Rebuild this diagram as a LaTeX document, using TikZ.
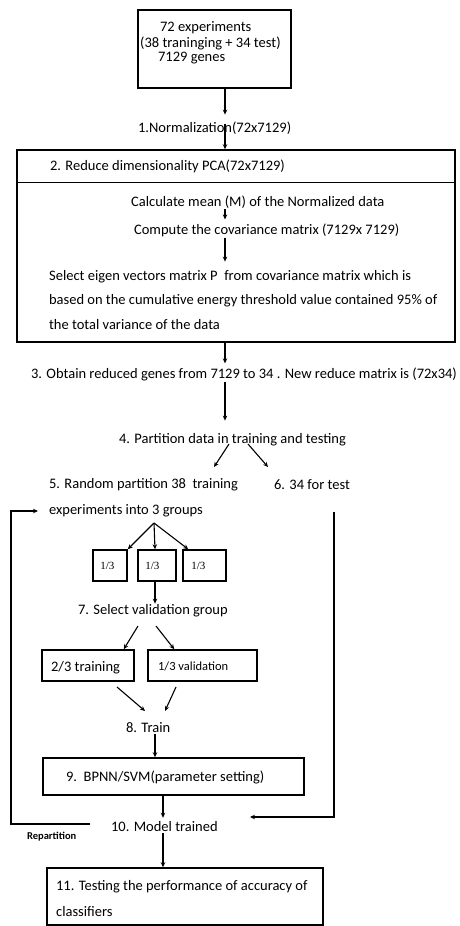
\documentclass[tikz,border=0pt]{standalone}
\usepackage{fontspec}
\setmainfont{Carlito}
\newfontfamily\smallserif{Liberation Serif}
\usetikzlibrary{arrows.meta}
\tikzset{every picture/.style={line width=0.75pt}}

\begin{document}
\begin{tikzpicture}[x=1pt,y=1pt,yscale=-1,xscale=1,
    txt/.style={anchor=west,inner sep=0.75pt,font=\fontsize{14.5}{17}\selectfont},
    box/.style={draw,line width=1.5pt,inner sep=0pt},
    arr/.style={draw,line width=1.1pt,-{Stealth[length=5pt,width=4.5pt]}}]
    \useasboundingbox (0,0) rectangle (459,926);
    \coordinate (spine) at (225,0);

    %Boxes
    \node [box,minimum width=153pt,minimum height=78pt] (exp) at (214.5,49) {};
    \node [box,minimum width=438pt,minimum height=192pt] (pca) at (236,246) {};
    \draw [line width=1.5pt] ([yshift=33pt]pca.north west) -- ([yshift=33pt]pca.north east);
    \node [box,minimum width=34pt,minimum height=31pt] (gA) at (110,565.5) {};
    \node [box,minimum width=38pt,minimum height=31pt] (gB) at (157,565.5) {};
    \node [box,minimum width=43pt,minimum height=31pt] (gC) at (204.5,565.5) {};
    \node [box,minimum width=92pt,minimum height=31pt] (trn) at (88,665.5) {};
    \node [box,minimum width=109pt,minimum height=31pt] (val) at (202.5,665.5) {};
    \node [box,minimum width=261pt,minimum height=37pt] (svm) at (173.5,776.5) {};
    \node [box,minimum width=276pt,minimum height=57pt] (acc) at (185,896.5) {};

    % Text Node
    \node [txt] (exp1) at (159,28) {72 experiments};
    \node [txt] (exp2) at (139,43) {(38 traninging + 34 test)};
    \node [txt] (exp3) at (157,58) {7129 genes};
    \node [txt] (norm) at (137,128) {1.Normalization(72x7129)};
    \node [txt] (red) at (49,166) {2. Reduce dimensionality PCA(72x7129)};
    \node [txt] (mean) at (130,202) {Calculate mean (M) of the Normalized data};
    \node [txt] (cov) at (133,230) {Compute the covariance matrix (7129x 7129)};
    \node [txt] (sel1) at (48,277) {Select eigen vectors matrix P\ \ from covariance matrix which is};
    \node [txt] (sel2) at (48,301) {based on the cumulative energy threshold value contained 95\% of};
    \node [txt] (sel3) at (48,325) {the total variance of the data};
    \node [txt] (obt) at (30,374) {3. Obtain reduced genes from 7129 to 34 . New reduce matrix is (72x34)};
    \node [txt] (part) at (118,440) {4. Partition data in training and testing};
    \node [txt] (rnd) at (48,485) {5. Random partition 38\ \ training};
    \node [txt] (test) at (273,485) {6. 34 for test};
    \node [txt] (grp) at (48,511) {experiments into 3 groups};
    \node [txt,font=\smallserif\fontsize{11}{12}\selectfont] (tA) at (gA.west) [xshift=7pt] {1/3};
    \node [txt,font=\smallserif\fontsize{11}{12}\selectfont] (tB) at (gB.west) [xshift=7pt] {1/3};
    \node [txt,font=\smallserif\fontsize{11}{12}\selectfont] (tC) at (gC.west) [xshift=8pt] {1/3};
    \node [txt] (selv) at (77,611) {7. Select validation group};
    \node [txt] (ttrn) at (50,668) {2/3 training};
    \node [txt,font=\fontsize{12.5}{14}\selectfont] (tval) at (157,666) {1/3 validation};
    \node [txt] (train) at (125,728) {8. Train};
    \node [txt] (tsvm) at (65,777) {9.\ \ BPNN/SVM(parameter setting)};
    \node [txt] (model) at (110,827) {10. Model trained};
    \node [txt,font=\bfseries\fontsize{10.5}{12}\selectfont] (rep) at (26,837) {Repartition};
    \node [txt] (acc1) at (55,887) {11. Testing the performance of accuracy of};
    \node [txt] (acc2) at (55,912) {classifiers};

    %Arrow ends
    \coordinate (n1) at (225,124);
    \coordinate (p1) at (229,444);
    \coordinate (p2) at (248,444);
    \coordinate (r1) at (214,467);
    \coordinate (r2) at (268,467);
    \coordinate (g0) at (154,523);
    \coordinate (v1) at (138,626);
    \coordinate (v2) at (156,626);
    \coordinate (w1) at (117,687);
    \coordinate (w2) at (176,687);
    \coordinate (t1) at (145,711);
    \coordinate (t2) at (165,711);
    \coordinate (lft) at (11,824);
    \coordinate (rp) at (90,824);
    \coordinate (rt) at (334,512);
    \coordinate (mt) at (250,817);

    %Straight Lines
    \draw [arr] (exp.south -| spine) -- ([yshift=-6pt]norm.north -| spine);
    \draw [arr] (n1) -- (pca.north -| spine);
    \draw [arr] (mean.south -| spine) -- ([yshift=-3pt]cov.north -| spine);
    \draw [arr] (cov.south -| spine) -- ([yshift=-8pt]sel1.north -| spine);
    \draw [arr] (pca.south -| spine) -- ([yshift=-3pt]obt.north -| spine);
    \draw [arr] (obt.south -| spine) -- ([yshift=-12pt]part.north -| spine);
    \draw [arr] (p1) -- (r1);
    \draw [arr] (p2) -- (r2);
    \draw [arr] (g0) -- (gA.north east);
    \draw [arr] (g0) -- ([xshift=-2pt]gB.north);
    \draw [arr] (g0) -- ([xshift=6pt]gC.north west);
    \draw [arr] ([xshift=-2pt]gB.south) -- ([xshift=-2pt]selv.north -| gB);
    \draw [arr] (v1) -- ([xshift=-11pt]trn.north east);
    \draw [arr] (v2) -- ([xshift=27pt]val.north west);
    \draw [arr] (w1) -- (t1);
    \draw [arr] (w2) -- (t2);
    \draw [arr] ([xshift=-2pt]train.south -| gB) -- ([xshift=-2pt]svm.north -| gB);
    \draw [arr] ([xshift=-10.5pt]svm.south) -- ([xshift=-10.5pt,yshift=-3pt]model.north -| svm);
    \draw [arr] ([xshift=-10.5pt]model.south -| svm) -- ([xshift=-10.5pt]acc.north -| svm);
    \draw [arr] (rp) -- (lft) |- ([xshift=-10pt]grp.west);
    \draw [arr] (rt) |- (mt);

\end{tikzpicture}
\end{document}
